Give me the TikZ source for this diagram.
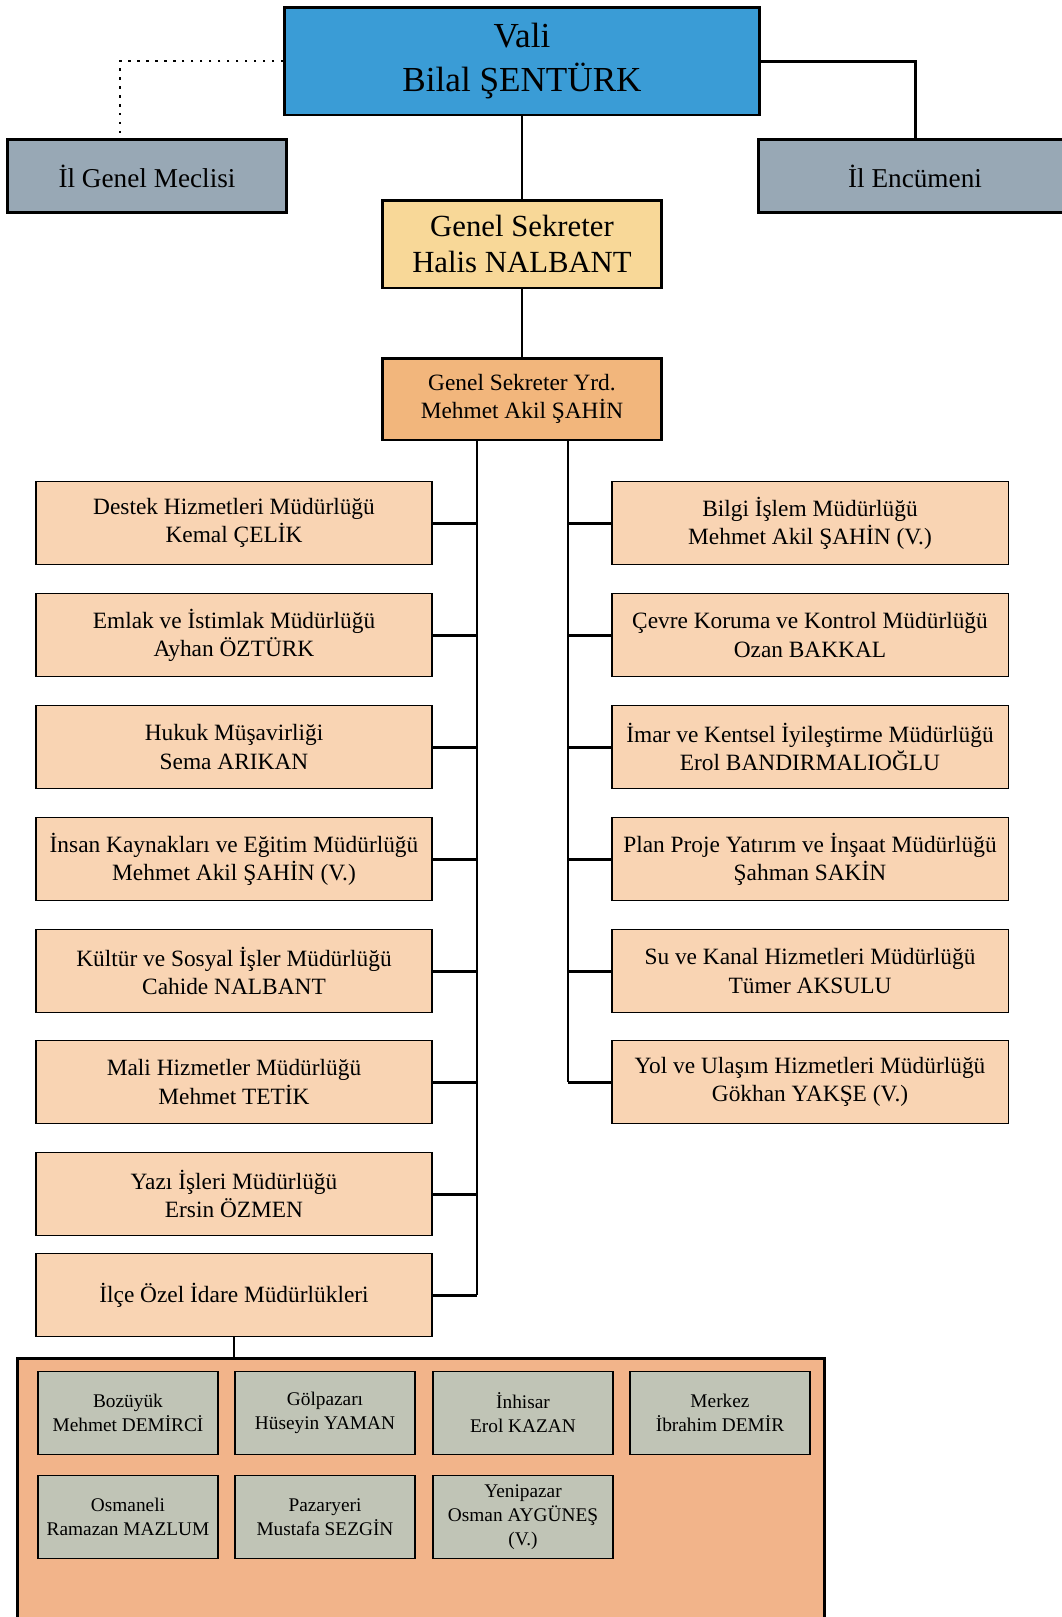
\documentclass[tikz,border=0pt]{standalone}
\usepackage{fontspec}
\setmainfont{Liberation Serif}
\usetikzlibrary{positioning,calc}
\definecolor{valiblue}{HTML}{3A9CD6}
\definecolor{meclisgray}{HTML}{98A8B5}
\definecolor{gsyellow}{HTML}{F8D898}
\definecolor{yrdorange}{HTML}{F2B67C}
\definecolor{dirpeach}{HTML}{F9D4B3}
\definecolor{grporange}{HTML}{F2B48A}
\definecolor{ilcegray}{HTML}{C0C4B6}

\begin{document}
\begin{tikzpicture}[x=0.02cm, y=-0.02cm,
	box/.style={draw, line width=1.7pt, inner sep=0pt, align=center},
	valibox/.style={box, fill=valiblue, minimum width=9.5cm, minimum height=2.16cm, font=\fontsize{20}{25}\selectfont},
	sidebox/.style={box, fill=meclisgray, minimum height=1.46cm, font=\fontsize{15.5}{19}\selectfont},
	gsbox/.style={box, fill=gsyellow, minimum width=5.6cm, minimum height=1.76cm, font=\fontsize{17.5}{21}\selectfont},
	yrdbox/.style={box, fill=yrdorange, minimum width=5.6cm, minimum height=1.64cm, font=\fontsize{13.3}{16}\selectfont},
	dirbox/.style={box, line width=1.1pt, fill=dirpeach, minimum width=7.94cm, minimum height=1.66cm, font=\fontsize{13.3}{16}\selectfont},
	ilcebox/.style={box, line width=1.1pt, fill=ilcegray, minimum width=3.6cm, minimum height=1.66cm, font=\fontsize{11}{13.6}\selectfont},
	conn/.style={line width=1.7pt}]
	\useasboundingbox (0,0) rectangle (1062,1617);
	\coordinate (lt) at (477,440);
	\coordinate (rt) at (568,440);
	\coordinate (mt) at (120,133);
%
	\node[valibox] (vali) at (522,61) {Vali\\Bilal ŞENTÜRK};
	\node[sidebox, minimum width=5.6cm] (meclis) at (147,176) {İl Genel Meclisi};
	\node[sidebox, minimum width=6.28cm] (encumen) at (915,176) {İl Encümeni};
	\node[gsbox] (gs) at (522,244) {Genel Sekreter\\Halis NALBANT};
	\node[yrdbox] (yrd) at (522,399) {Genel Sekreter Yrd.\\Mehmet Akil ŞAHİN};
%
	\draw[line width=1.5pt, dash pattern=on 1.4pt off 3.7pt] (vali.west) -| (mt);
	\draw[conn] (vali.east) -| (encumen.north);
	\draw[conn] (vali.south) -- (gs.north);
	\draw[conn] (gs.south) -- (yrd.north);
%
	\foreach \i/\y/\t in {1/523/{Destek Hizmetleri Müdürlüğü\\Kemal ÇELİK},
		2/635/{Emlak ve İstimlak Müdürlüğü\\Ayhan ÖZTÜRK},
		3/747/{Hukuk Müşavirliği\\Sema ARIKAN},
		4/859/{İnsan Kaynakları ve Eğitim Müdürlüğü\\Mehmet Akil ŞAHİN (V.)},
		5/971/{Kültür ve Sosyal İşler Müdürlüğü\\Cahide NALBANT},
		6/1082/{Mali Hizmetler Müdürlüğü\\Mehmet TETİK},
		7/1194/{Yazı İşleri Müdürlüğü\\Ersin ÖZMEN},
		8/1295/{İlçe Özel İdare Müdürlükleri}}
	{
		\node[dirbox] (l\i) at (234,\y) {\t};
		\draw[conn] (l\i.east) -- (l\i.east -| lt);
	}
	\foreach \i/\y/\t in {1/523/{Bilgi İşlem Müdürlüğü\\Mehmet Akil ŞAHİN (V.)},
		2/635/{Çevre Koruma ve Kontrol Müdürlüğü\\Ozan BAKKAL},
		3/747/{İmar ve Kentsel İyileştirme Müdürlüğü\\Erol BANDIRMALIOĞLU},
		4/859/{Plan Proje Yatırım ve İnşaat Müdürlüğü\\Şahman SAKİN},
		5/971/{Su ve Kanal Hizmetleri Müdürlüğü\\Tümer AKSULU},
		6/1082/{Yol ve Ulaşım Hizmetleri Müdürlüğü\\Gökhan YAKŞE (V.)}}
	{
		\node[dirbox] (r\i) at (810,\y) {\t};
		\draw[conn] (r\i.west) -- (r\i.west -| rt);
	}
	\draw[conn] (yrd.south -| lt) -- (l8.east -| lt);
	\draw[conn] (yrd.south -| rt) -- (r6.west -| rt);
%
	\node[box, fill=grporange, minimum width=16.16cm, minimum height=5.44cm] (grp) at (421,1494) {};
	\draw[conn] (l8.south) -- (l8.south |- grp.north);
	\node[ilcebox] (b1) at (128,1413) {Bozüyük\\Mehmet DEMİRCİ};
	\node[ilcebox] (b2) at (325,1413) {Gölpazarı\\Hüseyin YAMAN};
	\node[ilcebox] (b3) at (523,1413) {İnhisar\\Erol KAZAN};
	\node[ilcebox] (b4) at (720,1413) {Merkez\\İbrahim DEMİR};
	\node[ilcebox] (b5) at (128,1517) {Osmaneli\\Ramazan MAZLUM};
	\node[ilcebox] (b6) at (325,1517) {Pazaryeri\\Mustafa SEZGİN};
	\node[ilcebox] (b7) at (523,1517) {Yenipazar\\Osman AYGÜNEŞ\\(V.)};
\end{tikzpicture}
\end{document}
